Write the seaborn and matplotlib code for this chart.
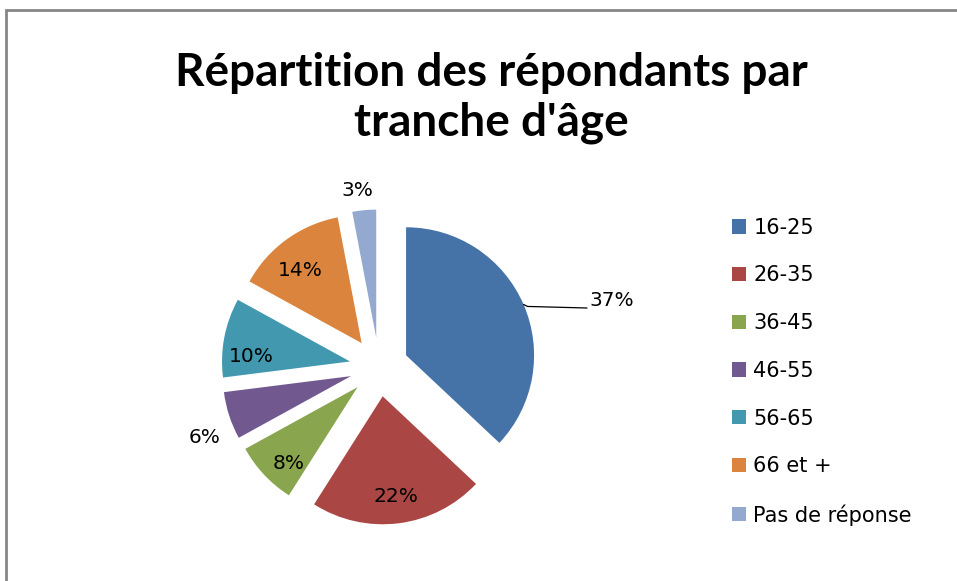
import numpy as np
import matplotlib
matplotlib.use("Agg")
import matplotlib.pyplot as plt
from matplotlib.patches import Rectangle
import seaborn as sns

# data
age_groups = ['16-25', '26-35', '36-45', '46-55', '56-65', '66 et +', 'Pas de réponse']
shares = [37, 22, 8, 6, 10, 14, 3]
colors = ['#4572A7', '#AA4643', '#89A54E', '#71588F', '#4198AF', '#DB843D', '#93A9CF']
title = "Répartition des répondants par\ntranche d'âge"

sns.set_style('white')
plt.rcParams['font.family'] = ['DejaVu Sans']
plt.rcParams['text.color'] = 'black'
palette = sns.color_palette(colors)

W, H = 957, 581
fig = plt.figure(figsize=(W / 100, H / 100), dpi=100)
ax = fig.add_axes([0, 0, 1, 1])

# pie geometry in pixels (y up)
cx, cy, R = 379, H - 367, 128
wedges, texts, autotexts = ax.pie(
    shares, colors=palette, startangle=90, counterclock=False,
    explode=[29.5] * len(shares), center=(cx, cy), radius=R,
    autopct='%1.0f%%', wedgeprops=dict(linewidth=0),
    textprops=dict(fontsize=14.5, color='black'))
ax.set_xlim(0, W)
ax.set_ylim(0, H)
ax.set_aspect('equal')
ax.axis('off')

# label placement (polar, relative to pie center)
pct_r = [1.89, 1.02, 1.03, 1.47, 1.0, 0.97, 1.39]
pct_ang = [16.0, -82.5, -133.2, -158.1, 175.5, 129.1, 97.1]
for t, fr, a in zip(autotexts, pct_r, pct_ang):
    t.set_position((cx + R * fr * np.cos(np.radians(a)), cy + R * fr * np.sin(np.radians(a))))

# leader line for the big slice
mid = np.radians(90 - shares[0] / 100 * 360 / 2)
ex, ey = cx + 29.5 * np.cos(mid), cy + 29.5 * np.sin(mid)
ax.plot([ex + R * np.cos(mid), ex + R * np.cos(mid) + 4, cx + 208],
        [ey + R * np.sin(mid), ey + R * np.sin(mid) - 2, H - 308],
        color='black', lw=0.9)
autotexts[0].set_position((cx + 210, H - 300))
autotexts[0].set_ha('left')

fig.text(0.513, 1 - 98 / H, title, ha='center', va='center', fontsize=33,
         fontweight='bold', linespacing=1.2, color='black', family=['Lato'])

ax.legend(wedges, age_groups, loc='upper left', bbox_to_anchor=(713 / W, 1 - 199 / H),
          bbox_transform=fig.transFigure, frameon=False, fontsize=15,
          handlelength=0.68, handleheight=0.68, handletextpad=0.35, labelspacing=1.33)

fig.patches.append(Rectangle((6 / W, -0.05), 1.1, (H - 10) / H + 0.05, transform=fig.transFigure,
                             fill=False, edgecolor='#868686', linewidth=2))

fig.savefig('out.png', dpi=100)
